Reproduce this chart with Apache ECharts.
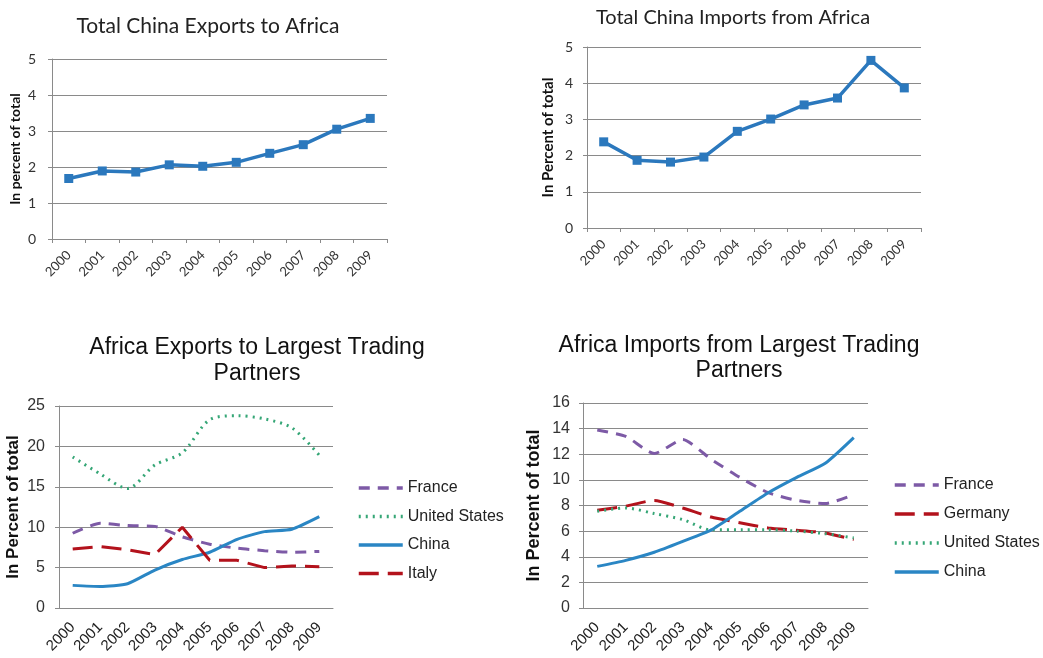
<!DOCTYPE html>
<html>
<head>
<meta charset="utf-8">
<script src="https://cdn.jsdelivr.net/npm/echarts/dist/echarts.min.js"></script>
<style>
html,body{margin:0;padding:0;background:#fff;}
#c{width:1043px;height:658px;}
</style>
</head>
<body>
<div id="c"></div>
<script>
// ---- data ----
const years = ['2000','2001','2002','2003','2004','2005','2006','2007','2008','2009'];

const chinaExportsToAfrica = [1.68, 1.89, 1.86, 2.06, 2.02, 2.13, 2.38, 2.62, 3.05, 3.35];
const chinaImportsFromAfrica = [2.38, 1.87, 1.82, 1.96, 2.67, 3.01, 3.40, 3.59, 4.63, 3.87];

const expFrance = [9.25, 10.5, 10.2, 10.1, 8.8, 7.9, 7.4, 7.1, 6.9, 7.0];
const expUS     = [18.7, 16.6, 14.8, 17.7, 19.2, 23.3, 23.8, 23.4, 22.3, 18.9];
const expChina  = [2.8, 2.67, 3.0, 4.7, 6.0, 6.9, 8.5, 9.45, 9.75, 11.3];
const expItaly  = [7.3, 7.6, 7.2, 6.6, 10.0, 5.9, 5.9, 5.0, 5.2, 5.1];

const impFrance  = [13.9, 13.4, 12.05, 13.15, 11.6, 10.2, 9.0, 8.4, 8.15, 8.85];
const impGermany = [7.63, 7.95, 8.4, 7.8, 7.1, 6.65, 6.25, 6.07, 5.86, 5.34];
const impUS      = [7.55, 7.8, 7.37, 6.9, 6.1, 6.1, 6.1, 6.0, 5.8, 5.47];
const impChina   = [3.25, 3.72, 4.35, 5.2, 6.1, 7.55, 9.0, 10.2, 11.3, 13.3];

// ---- styles ----
const BLUE = '#2b78bd';
const C_FR = '#7d5aa6';
const C_US = '#35a676';
const C_CN = '#2a86c4';
const C_RED = '#b3121c';
const GRIDC = '#8a8a8a';
const TOPF = 'Lato, "Open Sans", sans-serif';
const BOTF = '"Liberation Sans", Arial, sans-serif';

function topX(idx, font){
  return {
    type:'category', gridIndex:idx, data:years, boundaryGap:true,
    axisLine:{lineStyle:{color:GRIDC}},
    axisTick:{show:true, interval:0, length:4, lineStyle:{color:GRIDC}},
    axisLabel:{rotate:45, interval:0, fontFamily:font, fontSize:13, color:'#333', margin:14}
  };
}
function botX(idx){
  return {
    type:'category', gridIndex:idx, data:years, boundaryGap:true,
    axisLine:{lineStyle:{color:GRIDC}},
    axisTick:{show:false},
    axisLabel:{rotate:45, interval:0, fontFamily:BOTF, fontSize:15, color:'#222', margin:17}
  };
}
function yAx(idx, max, interval, name, font, nameSize, nameGap, labelSize, labelMargin){
  return {
    type:'value', gridIndex:idx, min:0, max:max, interval:interval,
    name:name, nameLocation:'middle', nameGap:nameGap,
    nameTextStyle:{fontFamily:font, fontWeight:'bold', fontSize:nameSize, color:'#111'},
    axisLine:{show:true, lineStyle:{color:GRIDC}},
    axisTick:{show:true, length:4, lineStyle:{color:GRIDC}},
    splitLine:{lineStyle:{color:GRIDC, width:1}},
    axisLabel:{fontFamily:font, fontSize:labelSize, color:'#333', margin:labelMargin}
  };
}

const option = {
  animation:false,
  backgroundColor:'#fff',
  title:[
    {text:'Total China Exports to Africa', left:203, top:11, textAlign:'center',
     textStyle:{fontFamily:TOPF, fontWeight:'normal', fontSize:21, color:'#222'}},
    {text:'Total China Imports from Africa', left:728, top:3, textAlign:'center',
     textStyle:{fontFamily:TOPF, fontWeight:'normal', fontSize:20, color:'#222'}},
    {text:'Africa Exports to Largest Trading\nPartners', left:252, top:330, textAlign:'center',
     textStyle:{fontFamily:BOTF, fontWeight:'normal', fontSize:23, lineHeight:26, color:'#111'}},
    {text:'Africa Imports from Largest Trading\nPartners', left:734, top:328, textAlign:'center',
     textStyle:{fontFamily:BOTF, fontWeight:'normal', fontSize:23, lineHeight:25, color:'#111'}}
  ],
  legend:[
    {orient:'vertical', left:352, top:475, itemGap:12.5, itemWidth:44, itemHeight:14,
     itemStyle:{opacity:0}, lineStyle:{width:3.5},
     data:['France','United States','China','Italy'],
     textStyle:{fontFamily:BOTF, fontSize:16, color:'#222'}},
    {orient:'vertical', left:888, top:472, itemGap:13, itemWidth:44, itemHeight:14,
     itemStyle:{opacity:0}, lineStyle:{width:3.5},
     data:['France','Germany','United States','China'],
     textStyle:{fontFamily:BOTF, fontSize:16, color:'#222'}}
  ],
  grid:[
    {left:52, top:59, width:335, height:180},
    {left:587, top:47, width:334, height:181},
    {left:59, top:406, width:274, height:202},
    {left:583, top:403, width:285, height:205}
  ],
  xAxis:[topX(0, TOPF), topX(1, TOPF), botX(2), botX(3)],
  yAxis:[
    yAx(0, 5, 1, 'In percent of total', TOPF, 14, 30, 14, 16),
    yAx(1, 5, 1, 'In Percent of total', TOPF, 15, 31, 14, 14),
    yAx(2, 25, 5, 'In Percent of total', BOTF, 17, 37, 16, 14),
    yAx(3, 16, 2, 'In Percent of total', BOTF, 18, 40, 16, 13)
  ],
  series:[
    {type:'line', name:'Exports', xAxisIndex:0, yAxisIndex:0, data:chinaExportsToAfrica,
     symbol:'rect', symbolSize:9, itemStyle:{color:BLUE}, lineStyle:{color:BLUE, width:3.5}},
    {type:'line', name:'Imports', xAxisIndex:1, yAxisIndex:1, data:chinaImportsFromAfrica,
     symbol:'rect', symbolSize:9, itemStyle:{color:BLUE}, lineStyle:{color:BLUE, width:3.5}},

    {type:'line', name:'France', xAxisIndex:2, yAxisIndex:2, data:expFrance, symbol:'none', smooth:0.2,
     itemStyle:{color:C_FR}, lineStyle:{color:C_FR, width:3, type:[11,8]}},
    {type:'line', name:'United States', xAxisIndex:2, yAxisIndex:2, data:expUS, symbol:'none', smooth:0.3,
     itemStyle:{color:C_US}, lineStyle:{color:C_US, width:3, type:[2,5]}},
    {type:'line', name:'China', xAxisIndex:2, yAxisIndex:2, data:expChina, symbol:'none', smooth:0.2,
     itemStyle:{color:C_CN}, lineStyle:{color:C_CN, width:3}},
    {type:'line', name:'Italy', xAxisIndex:2, yAxisIndex:2, data:expItaly, symbol:'none',
     itemStyle:{color:C_RED}, lineStyle:{color:C_RED, width:3, type:[20,9]}},

    {type:'line', name:'France', xAxisIndex:3, yAxisIndex:3, data:impFrance, symbol:'none', smooth:0.2,
     itemStyle:{color:C_FR}, lineStyle:{color:C_FR, width:3, type:[11,8]}},
    {type:'line', name:'Germany', xAxisIndex:3, yAxisIndex:3, data:impGermany, symbol:'none', smooth:0.2,
     itemStyle:{color:C_RED}, lineStyle:{color:C_RED, width:3, type:[20,9]}},
    {type:'line', name:'United States', xAxisIndex:3, yAxisIndex:3, data:impUS, symbol:'none', smooth:0.3,
     itemStyle:{color:C_US}, lineStyle:{color:C_US, width:3, type:[2,5]}},
    {type:'line', name:'China', xAxisIndex:3, yAxisIndex:3, data:impChina, symbol:'none', smooth:0.2,
     itemStyle:{color:C_CN}, lineStyle:{color:C_CN, width:3}}
  ]
};

const chart = echarts.init(document.getElementById('c'), null, {renderer:'canvas'});
chart.setOption(option);
</script>
</body>
</html>
